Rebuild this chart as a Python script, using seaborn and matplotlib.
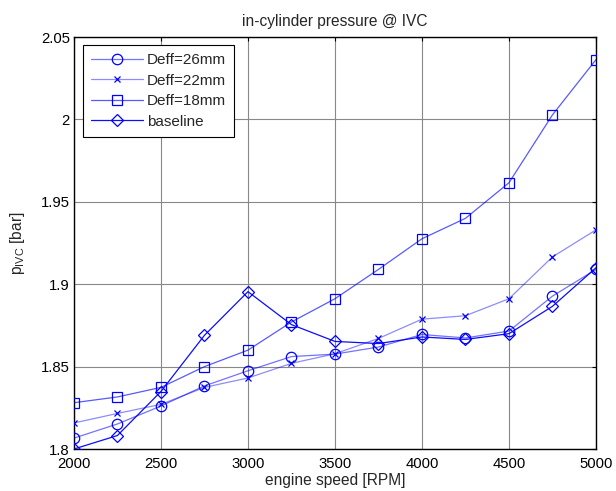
import matplotlib
matplotlib.use("Agg")
import matplotlib.pyplot as plt
from matplotlib.lines import Line2D
import seaborn as sns
import pandas as pd

# engine speed sweep [RPM]
rpm = [2000, 2250, 2500, 2750, 3000, 3250, 3500, 3750, 4000, 4250, 4500, 4750, 5000]

# in-cylinder pressure at intake valve closing [bar]
p_deff26 = [1.8066, 1.8152, 1.8261, 1.8383, 1.8475, 1.8561, 1.8576, 1.8619, 1.8695, 1.8674, 1.8716, 1.8928, 1.9090]
p_deff22 = [1.8158, 1.8216, 1.8271, 1.8374, 1.8431, 1.8520, 1.8578, 1.8671, 1.8788, 1.8809, 1.8912, 1.9166, 1.9330]
p_deff18 = [1.8281, 1.8316, 1.8374, 1.8500, 1.8600, 1.8771, 1.8912, 1.9090, 1.9276, 1.9400, 1.9616, 2.0028, 2.0363]
p_base = [1.8000, 1.8082, 1.8349, 1.8690, 1.8955, 1.8755, 1.8653, 1.8640, 1.8680, 1.8665, 1.8700, 1.8866, 1.9100]

series_names = ["Deff=26mm", "Deff=22mm", "Deff=18mm", "baseline"]
series_vals = [p_deff26, p_deff22, p_deff18, p_base]

x_ticks = [2000, 2500, 3000, 3500, 4000, 4500, 5000]
y_ticks = [1.8, 1.85, 1.9, 1.95, 2.0, 2.05]
y_ticklabels = ["1.8", "1.85", "1.9", "1.95", "2", "2.05"]

sns.set_style("white")
plt.rcParams["font.family"] = ["Liberation Sans", "DejaVu Sans"]
plt.rcParams["font.size"] = 10.7
plt.rcParams["mathtext.fontset"] = "custom"
plt.rcParams["mathtext.rm"] = "Liberation Sans"

fig = plt.figure(figsize=(6.16, 4.91), dpi=100)
ax = fig.add_axes([0.120, 0.0855, 0.8475, 0.839])

styles = {
    "Deff=26mm": dict(marker="o", line_alpha=0.55, ms=7.5),
    "Deff=22mm": dict(marker="x", line_alpha=0.45, ms=4.5),
    "Deff=18mm": dict(marker="s", line_alpha=0.65, ms=7.5),
    "baseline": dict(marker="D", line_alpha=0.95, ms=6.5),
}

for name, vals in zip(series_names, series_vals):
    df = pd.DataFrame({"rpm": rpm, "p": vals})
    st = styles[name]
    sns.lineplot(data=df, x="rpm", y="p", ax=ax, color=(0, 0, 1, st["line_alpha"]),
                 linewidth=0.9, label=name, zorder=3)
    ax.plot(df["rpm"], df["p"], linestyle="none", marker=st["marker"], ms=st["ms"],
            mfc="none", mec="blue", mew=0.9, zorder=4)

# legend handles carrying both line and marker
handles = [Line2D([], [], color=(0, 0, 1, styles[n]["line_alpha"]), lw=0.9,
                  marker=styles[n]["marker"], ms=styles[n]["ms"], mfc="none",
                  mec="blue", mew=0.9) for n in series_names]
leg = ax.legend(handles, series_names, loc="upper left", bbox_to_anchor=(0.017, 0.981),
                frameon=True, fancybox=False, framealpha=1, edgecolor="black",
                handlelength=3.4, borderpad=0.55, labelspacing=0.42, fontsize=11,
                handletextpad=0.25, borderaxespad=0)
leg.get_frame().set_linewidth(0.8)

ax.set_xlim(2000, 5000)
ax.set_ylim(1.8, 2.05)
ax.set_xticks(x_ticks)
ax.set_yticks(y_ticks)
ax.set_yticklabels(y_ticklabels)
ax.grid(True, color="#888888", linewidth=0.8)
ax.set_axisbelow(True)
ax.tick_params(direction="in", length=3, width=0.8, top=True, right=True,
               labelsize=10.7, colors="black")
ax.tick_params(axis="x", pad=6)
ax.tick_params(axis="y", pad=3)
for sp in ax.spines.values():
    sp.set_visible(True)
    sp.set_color("black")
    sp.set_linewidth(1.0)

ax.set_title("in-cylinder pressure @ IVC", fontsize=11.2, pad=8)
ax.set_xlabel("engine speed [RPM]", fontsize=11.2, labelpad=1)
ax.set_ylabel(r"p$_{\mathregular{IVC}}$ [bar]", fontsize=11.2, labelpad=10)

fig.savefig("out.png", dpi=100)
